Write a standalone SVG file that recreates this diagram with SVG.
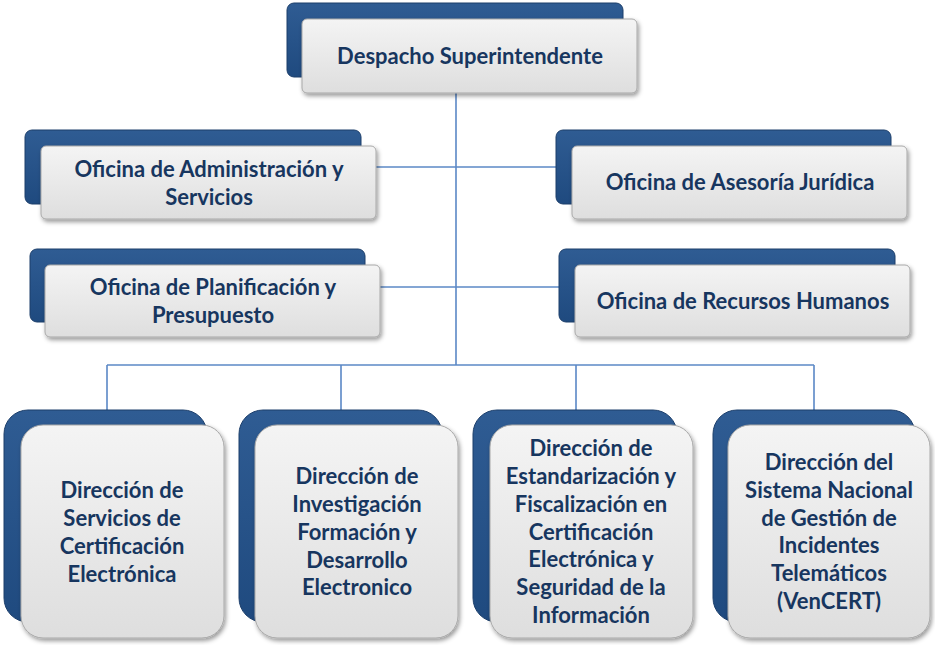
<svg xmlns="http://www.w3.org/2000/svg" width="935" height="645" viewBox="0 0 935 645">
<defs>
<linearGradient id="gDark" x1="0" y1="0" x2="0" y2="1">
<stop offset="0" stop-color="#2f5c93"/>
<stop offset="1" stop-color="#1f4a7f"/>
</linearGradient>
<linearGradient id="gLight" x1="0" y1="0" x2="0" y2="1">
<stop offset="0" stop-color="#f4f4f4"/>
<stop offset="1" stop-color="#dedede"/>
</linearGradient>
<filter id="sh" x="-10%" y="-10%" width="125%" height="130%">
<feDropShadow dx="1.5" dy="2.5" stdDeviation="2" flood-color="#000" flood-opacity="0.4"/>
</filter>
</defs>
<style>
.back{fill:url(#gDark);stroke:#1d3f6b;stroke-width:1}
.front{fill:url(#gLight);stroke:#a8a8a8;stroke-width:1;filter:url(#sh)}
.t{font-family:Lato,"Liberation Sans",sans-serif;font-weight:bold;font-size:22px;fill:#17365f;text-anchor:middle}
.c{fill:none;stroke:#5b88c6;stroke-width:1.6}
</style>
<rect width="935" height="645" fill="#ffffff"/>
<g id="connectors">
<path class="c" d="M456 93V365"/>
<path class="c" d="M376 167H557"/>
<path class="c" d="M380 287H560"/>
<path class="c" d="M107 365H814"/>
<path class="c" d="M107 365V410M341 365V410M576 365V410M814 365V410"/>
</g>
<g id="n-despacho">
<rect class="back" x="287" y="3" width="336" height="74" rx="7"/>
<rect class="front" x="302" y="19" width="335" height="74" rx="5"/>
<text class="t" x="470" y="64">Despacho Superintendente</text>
</g>
<g id="n-admin">
<rect class="back" x="25" y="130" width="336" height="74" rx="7"/>
<rect class="front" x="41" y="146" width="335" height="73" rx="5"/>
<text class="t" x="209" y="177">Oficina de Administración y</text>
<text class="t" x="209" y="205">Servicios</text>
</g>
<g id="n-planif">
<rect class="back" x="30" y="249" width="335" height="73" rx="7"/>
<rect class="front" x="45" y="265" width="335" height="72" rx="5"/>
<text class="t" x="213" y="295">Oficina de Planificación y</text>
<text class="t" x="213" y="323">Presupuesto</text>
</g>
<g id="n-juridica">
<rect class="back" x="556" y="130" width="335" height="74" rx="7"/>
<rect class="front" x="572" y="146" width="335" height="73" rx="5"/>
<text class="t" x="740" y="190">Oficina de Asesoría Jurídica</text>
</g>
<g id="n-rrhh">
<rect class="back" x="559" y="249" width="336" height="73" rx="7"/>
<rect class="front" x="575" y="265" width="335" height="72" rx="5"/>
<text class="t" x="743" y="309">Oficina de Recursos Humanos</text>
</g>
<g id="n-servicios">
<rect class="back" x="4" y="410" width="203" height="212" rx="24"/>
<rect class="front" x="21" y="425" width="203" height="213" rx="22"/>
<text class="t" x="122" y="498">Dirección de</text>
<text class="t" x="122" y="526">Servicios de</text>
<text class="t" x="122" y="554">Certificación</text>
<text class="t" x="122" y="582">Electrónica</text>
</g>
<g id="n-investigacion">
<rect class="back" x="239" y="410" width="203" height="212" rx="24"/>
<rect class="front" x="255" y="425" width="203" height="213" rx="22"/>
<text class="t" x="357" y="484">Dirección de</text>
<text class="t" x="357" y="512">Investigación</text>
<text class="t" x="357" y="540">Formación y</text>
<text class="t" x="357" y="568">Desarrollo</text>
<text class="t" x="357" y="595">Electronico</text>
</g>
<g id="n-estandarizacion">
<rect class="back" x="473" y="410" width="204" height="212" rx="24"/>
<rect class="front" x="490" y="425" width="203" height="213" rx="22"/>
<text class="t" x="591" y="456">Dirección de</text>
<text class="t" x="591" y="484">Estandarización y</text>
<text class="t" x="591" y="512">Fiscalización en</text>
<text class="t" x="591" y="540">Certificación</text>
<text class="t" x="591" y="567">Electrónica y</text>
<text class="t" x="591" y="595">Seguridad de la</text>
<text class="t" x="591" y="623">Información</text>
</g>
<g id="n-vencert">
<rect class="back" x="713" y="410" width="202" height="212" rx="24"/>
<rect class="front" x="728" y="425" width="202" height="213" rx="22"/>
<text class="t" x="829" y="470">Dirección del</text>
<text class="t" x="829" y="498">Sistema Nacional</text>
<text class="t" x="829" y="526">de Gestión de</text>
<text class="t" x="829" y="553">Incidentes</text>
<text class="t" x="829" y="581">Telemáticos</text>
<text class="t" x="829" y="609">(VenCERT)</text>
</g>
</svg>
